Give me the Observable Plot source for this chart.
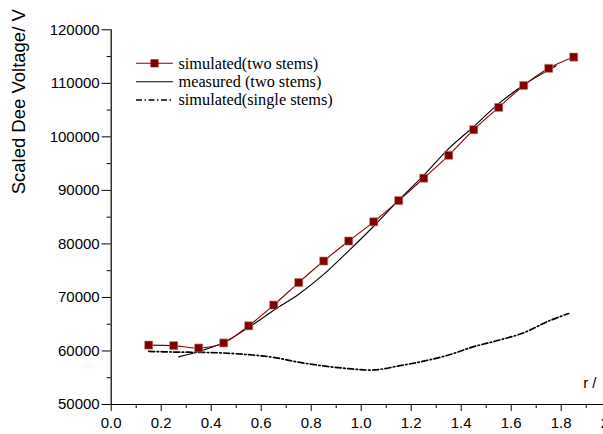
<!DOCTYPE html>
<html>
<head>
<meta charset="utf-8">
<script src="https://cdn.jsdelivr.net/npm/d3@7"></script>
<script src="https://cdn.jsdelivr.net/npm/@observablehq/plot@0.6"></script>
<style>
  html, body { margin: 0; padding: 0; background: white; overflow: hidden; width: 603px; height: 434px; }
  #wrap { position: relative; width: 640px; height: 434px; }
  #legend { position: absolute; left: 0; top: 0; }
</style>
</head>
<body>
<div id="wrap"></div>
<script>
// Data
const simTwoR = [0.15, 0.25, 0.35, 0.45, 0.55, 0.65, 0.75, 0.85, 0.95, 1.05, 1.15, 1.25, 1.35, 1.45, 1.55, 1.65, 1.75, 1.85];
const simTwoV = [61100, 61000, 60550, 61500, 64700, 68570, 72780, 76800, 80540, 84130, 88100, 92270, 96550, 101340, 105500, 109600, 112800, 114900];

const measR = [0.27, 0.35, 0.45, 0.55, 0.65, 0.75, 0.85, 0.95, 1.05, 1.15, 1.25, 1.35, 1.45, 1.55, 1.65, 1.75, 1.78];
const measV = [58900, 59900, 61600, 64400, 67600, 70600, 74300, 78700, 83300, 88200, 92800, 97800, 101900, 106200, 109700, 112500, 113300];

const singR = [0.15, 0.25, 0.35, 0.45, 0.55, 0.65, 0.75, 0.85, 0.95, 1.05, 1.15, 1.25, 1.35, 1.45, 1.55, 1.65, 1.75, 1.83];
const singV = [59930, 59800, 59740, 59620, 59300, 58800, 57900, 57200, 56700, 56450, 57200, 58100, 59250, 60800, 62000, 63400, 65600, 67000];

const xTicks = [0.0, 0.2, 0.4, 0.6, 0.8, 1.0, 1.2, 1.4, 1.6, 1.8, 2.0];
const xMinor = [0.1, 0.3, 0.5, 0.7, 0.9, 1.1, 1.3, 1.5, 1.7, 1.9];
const yTicks = [50000, 60000, 70000, 80000, 90000, 100000, 110000, 120000];
const yMinor = [55000, 65000, 75000, 85000, 95000, 105000, 115000];

const legendLabels = ["simulated(two stems)", "measured (two stems)", "simulated(single stems)"];
const yTitle = "Scaled Dee Voltage/ V";
const xTitle = "r /";

const simTwo = simTwoR.map((r, i) => ({r, v: simTwoV[i]}));
const meas = measR.map((r, i) => ({r, v: measV[i]}));
const sing = singR.map((r, i) => ({r, v: singV[i]}));

const RED_LINE = "#8b0000";
const RED_FILL = "#800000";
const DASHDOT = "6,2.5,1.5,2.5";

const chart = Plot.plot({
  width: 640,
  height: 434,
  marginLeft: 110.7,
  marginRight: 29.3,
  marginTop: 29.3,
  marginBottom: 30,
  x: {domain: [0, 2]},
  y: {domain: [50000, 120000]},
  style: {fontFamily: "'Liberation Sans', Arial, sans-serif", fontSize: "15px", background: "white", color: "black", overflow: "visible"},
  marks: [
    Plot.axisX({ticks: xTicks, tickFormat: d3.format(".1f"), tickSize: 7, tickPadding: 6, fontSize: 15, label: null}),
    Plot.axisX({ticks: xMinor, tickFormat: () => "", tickSize: 4, label: null}),
    Plot.axisY({ticks: yTicks, tickFormat: d => String(d), tickSize: 9, tickPadding: 2.5, fontSize: 15, label: null}),
    Plot.axisY({ticks: yMinor, tickFormat: () => "", tickSize: 4, label: null}),
    Plot.ruleY([50000], {stroke: "black", strokeWidth: 1.2}),
    Plot.ruleX([0], {stroke: "black", strokeWidth: 1.2}),
    Plot.line(sing, {x: "r", y: "v", stroke: "black", strokeWidth: 1.7, strokeDasharray: DASHDOT, curve: "catmull-rom"}),
    Plot.line(meas, {x: "r", y: "v", stroke: "black", strokeWidth: 1.1, curve: "catmull-rom"}),
    Plot.line(simTwo, {x: "r", y: "v", stroke: RED_LINE, strokeWidth: 1.1, curve: "catmull-rom"}),
    Plot.dot(simTwo, {x: "r", y: "v", symbol: "square", r: 4.6, fill: RED_FILL, stroke: "#c98a8a", strokeWidth: 0.6}),
    Plot.text([yTitle], {frameAnchor: "top-left", text: d => d, rotate: -90, dx: -92.5, dy: 72, fontSize: 18.5, textAnchor: "middle", lineAnchor: "middle"}),
    Plot.text([xTitle], {frameAnchor: "bottom-left", text: d => d, dx: 472, dy: -17, fontSize: 15, textAnchor: "start", lineAnchor: "bottom"})
  ]
});

const wrap = document.getElementById("wrap");
wrap.appendChild(chart);

// Legend overlay
const ns = "http://www.w3.org/2000/svg";
const leg = document.createElementNS(ns, "svg");
leg.setAttribute("id", "legend");
leg.setAttribute("width", 400);
leg.setAttribute("height", 130);
const rowsY = [63.3, 81.7, 100];
const styles = [
  {stroke: RED_LINE, dash: null, sw: 1.1, square: true},
  {stroke: "black", dash: null, sw: 1.1, square: false},
  {stroke: "black", dash: DASHDOT, sw: 1.5, square: false}
];
legendLabels.forEach((label, i) => {
  const y = rowsY[i];
  const s = styles[i];
  const ln = document.createElementNS(ns, "line");
  ln.setAttribute("x1", 136); ln.setAttribute("x2", 173);
  ln.setAttribute("y1", y); ln.setAttribute("y2", y);
  ln.setAttribute("stroke", s.stroke);
  ln.setAttribute("stroke-width", s.sw);
  if (s.dash) ln.setAttribute("stroke-dasharray", s.dash);
  leg.appendChild(ln);
  if (s.square) {
    const sq = document.createElementNS(ns, "rect");
    sq.setAttribute("x", 154.5 - 4); sq.setAttribute("y", y - 4);
    sq.setAttribute("width", 8); sq.setAttribute("height", 8);
    sq.setAttribute("fill", RED_FILL);
    leg.appendChild(sq);
  }
  const t = document.createElementNS(ns, "text");
  t.setAttribute("x", 178.5);
  t.setAttribute("y", y + 5.3);
  t.setAttribute("font-family", "'Liberation Serif', 'Times New Roman', serif");
  t.setAttribute("font-size", 16.3);
  t.textContent = label;
  leg.appendChild(t);
});
wrap.appendChild(leg);
</script>
</body>
</html>
